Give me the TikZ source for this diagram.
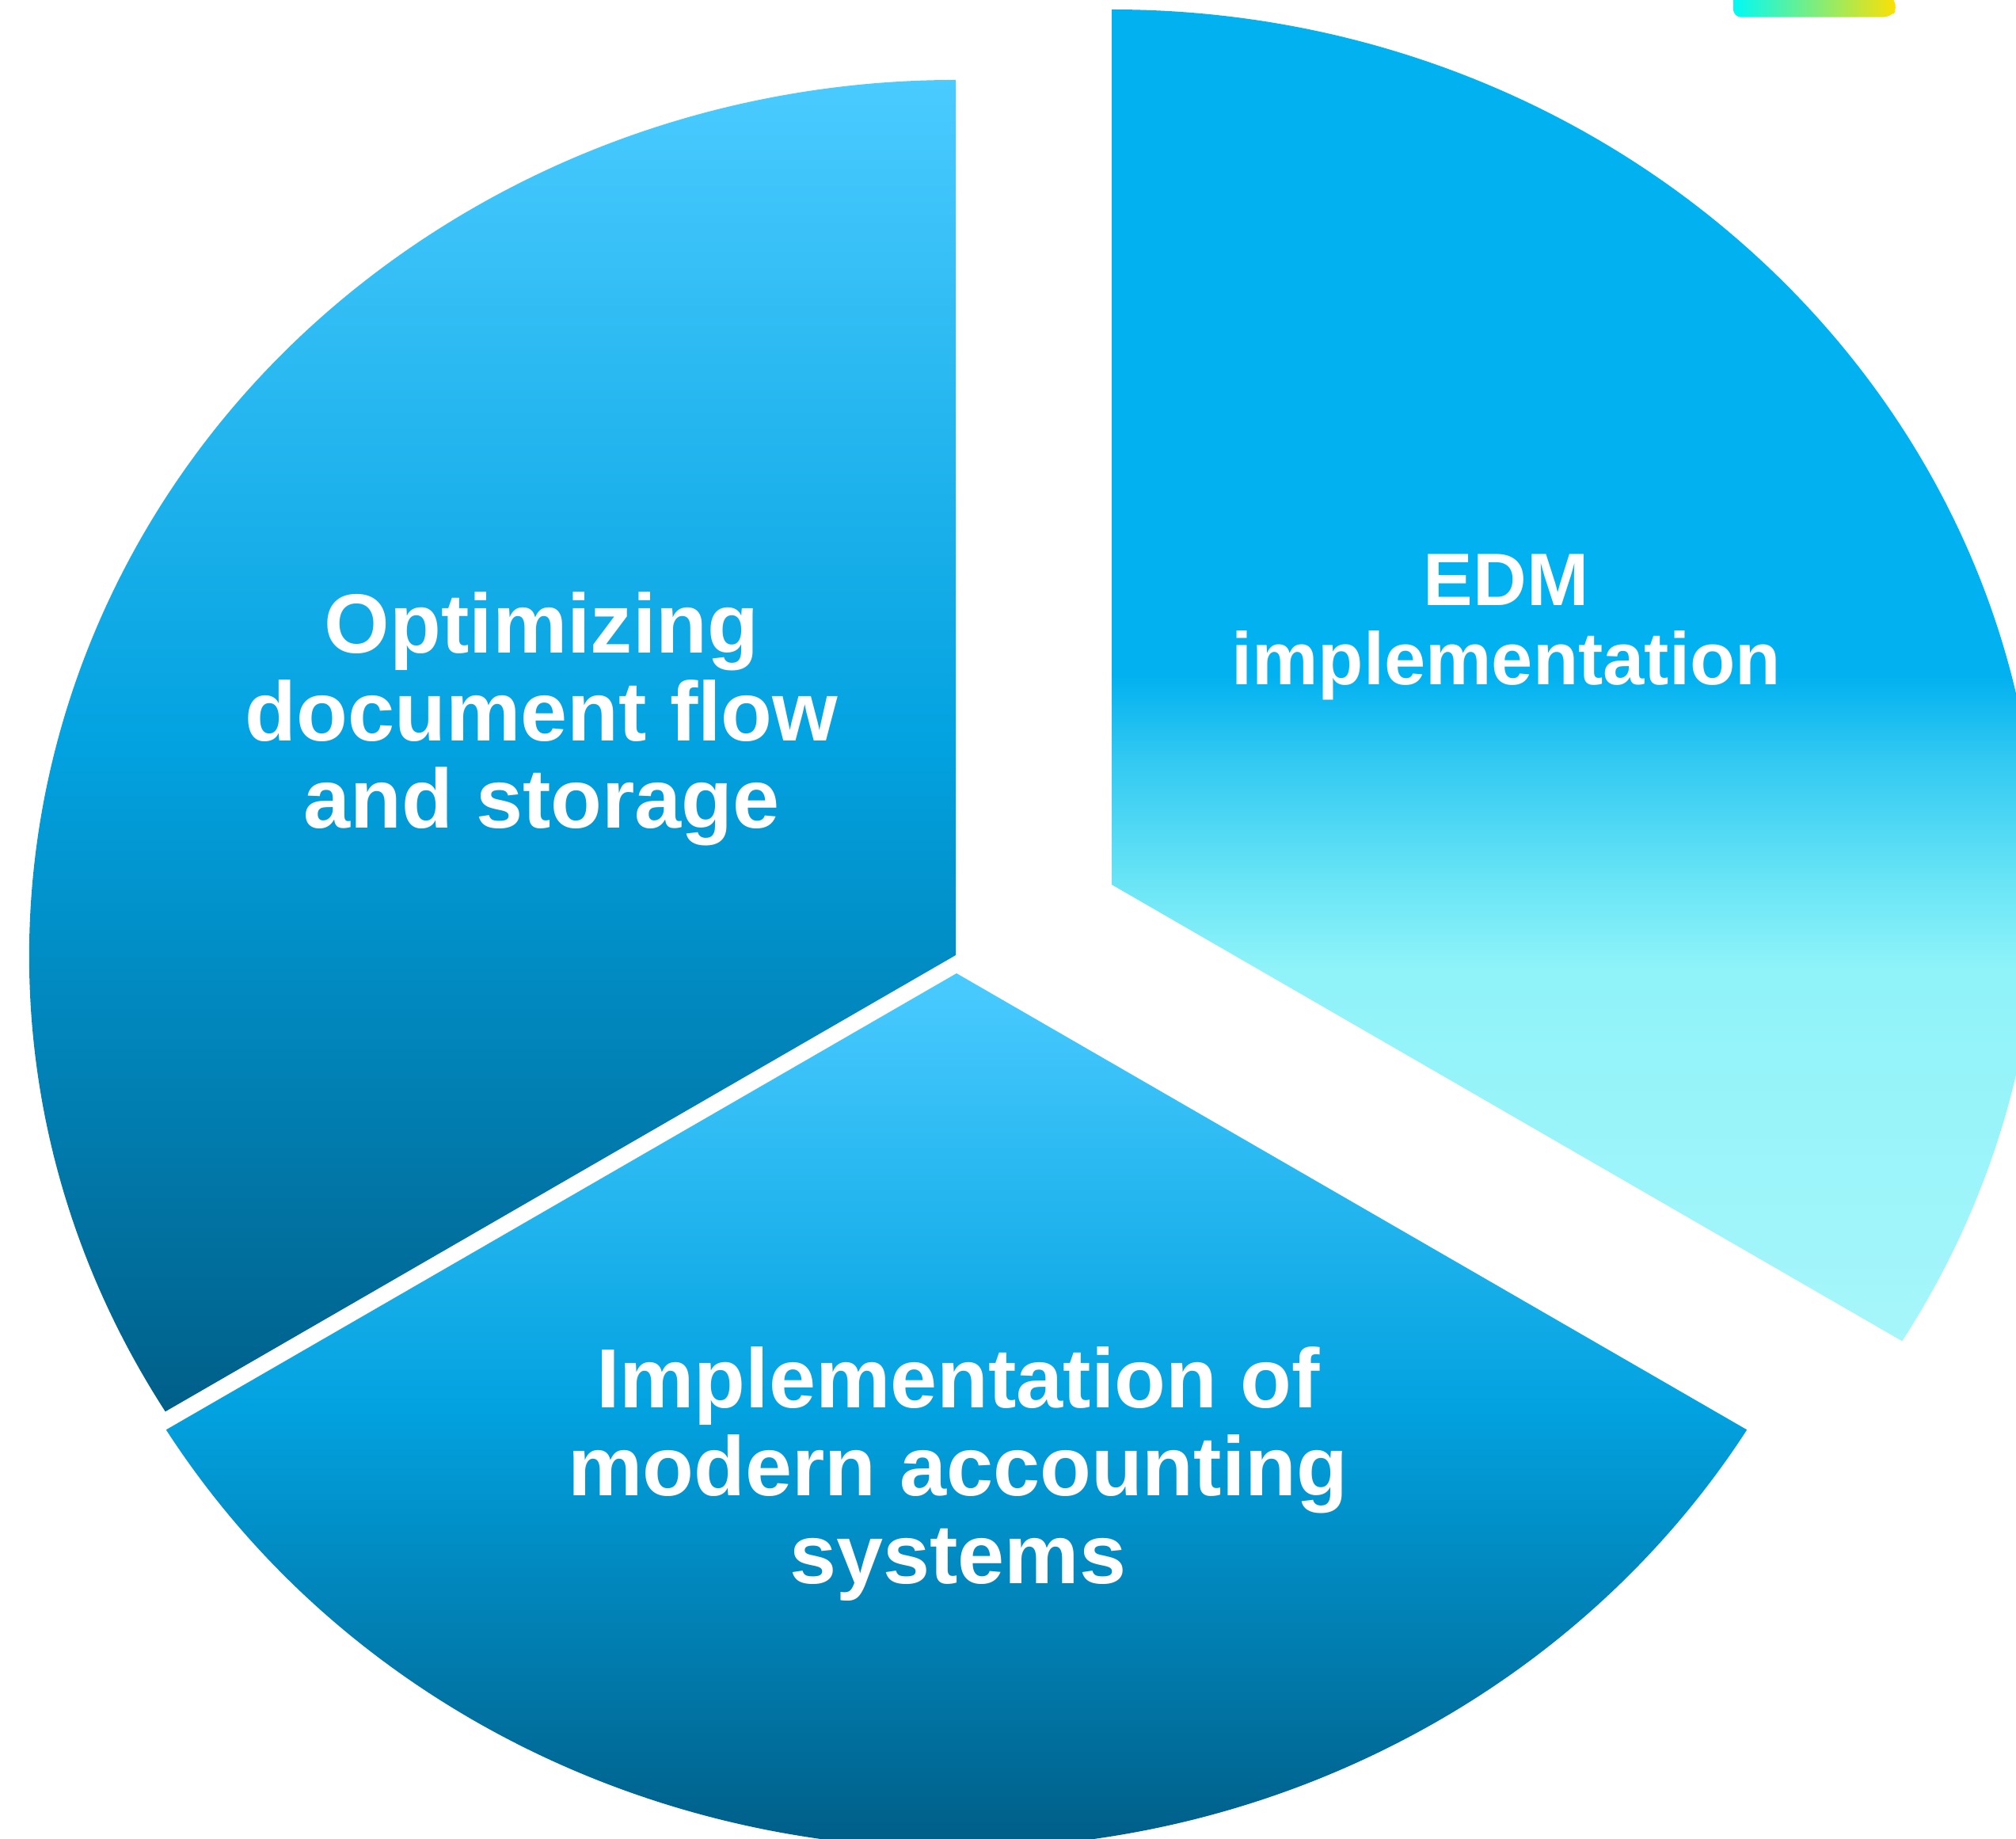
\documentclass[tikz,border=0pt]{standalone}
\usepackage{fontspec}
\setmainfont{Liberation Sans}
\usetikzlibrary{calc}

\definecolor{sliceTop}{HTML}{4ACBFF}
\definecolor{sliceMid}{HTML}{02A2E0}
\definecolor{sliceLow}{HTML}{005F89}
\definecolor{edmTop}{HTML}{02B1F0}
\definecolor{edmA}{HTML}{30C8F2}
\definecolor{edmB}{HTML}{6CE6F6}
\definecolor{edmC}{HTML}{8FF3F9}
\definecolor{edmLow}{HTML}{A6F6FA}
\definecolor{barCyan}{HTML}{00FAF5}
\definecolor{barYellow}{HTML}{FFE000}

\pgfdeclareverticalshading{edmshade}{100bp}{color(0bp)=(edmLow); color(25bp)=(edmLow); color(39bp)=(edmC); color(42bp)=(edmB); color(47bp)=(edmA); color(50bp)=(edmTop); color(100bp)=(edmTop)}

\begin{document}
\begin{tikzpicture}[
    pie radii/.style={x radius=11.7, y radius=11.05},
    blueslice/.style={top color=sliceTop, bottom color=sliceLow, middle color=sliceMid},
    slicetext/.style={text=white, align=center, inner sep=0pt, font=\fontsize{30.2}{31.5}\selectfont\bfseries},
    edmtext/.style={font=\fontsize{26.7}{28.2}\selectfont\bfseries}]
    \useasboundingbox (0,0) rectangle (25.46,-23.22);
    \clip (0,0) rectangle (25.46,-23.22);
    % slice centres (exploded)
    \coordinate (cL) at (12.07,-12.06);
    \coordinate (cR) at (14.04,-11.17);
    \coordinate (cB) at (12.08,-12.29);
    % slices
    \begin{scope}
        \clip (cL) -- ++(-9.982,-5.763) arc[pie radii, start angle=211.44, end angle=90] -- cycle;
        \shade[blueslice] (0,-1.01) rectangle (12.2,-17.82);
    \end{scope}
    \begin{scope}
        \clip (cR) -- ++(0,11.05) arc[pie radii, start angle=90, end angle=-31.44] -- cycle;
        \shade[shading=edmshade] (13.9,-0.12) rectangle (25.46,-16.94);
    \end{scope}
    \begin{scope}
        \clip (cB) -- ++(-9.982,-5.763) arc[pie radii, start angle=211.44, end angle=328.56] -- cycle;
        \shade[blueslice] (0,-12.29) rectangle (25.46,-23.22);
    \end{scope}
    % little bar, top right
    \shade[left color=barCyan, right color=barYellow, rounded corners=0.1cm]
        (21.89,0.2) -- (21.89,-0.217) -- (23.88,-0.217) -- (23.97,-0.10) -- (23.80,0.2) -- cycle;
    % texts
    \node[slicetext] (opt) at (6.84,-9.08) {Optimizing\\document flow\\and storage};
    \node[slicetext, edmtext] (edm) at (19.02,-7.92) {EDM\\implementation};
    \node[slicetext] (acc) at (12.10,-18.61) {Implementation of\\modern accounting\\systems};
\end{tikzpicture}
\end{document}
